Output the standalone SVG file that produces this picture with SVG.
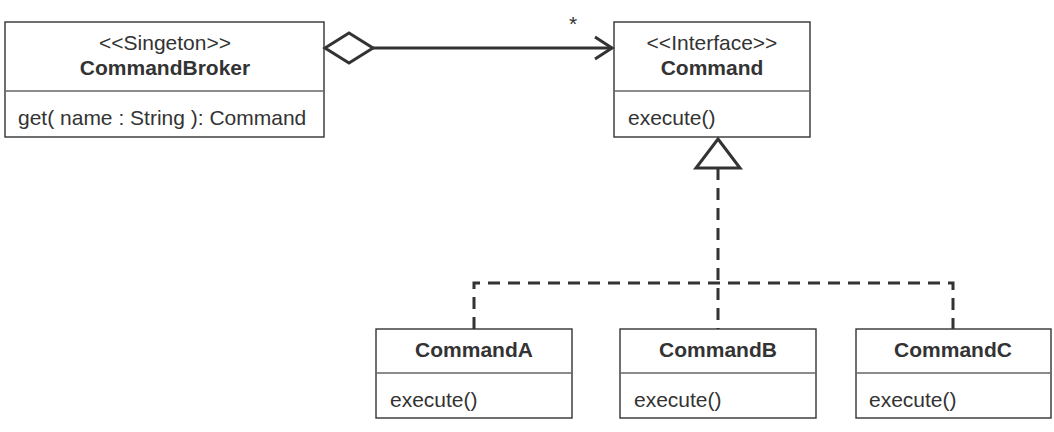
<svg xmlns="http://www.w3.org/2000/svg" width="1054" height="432" viewBox="0 0 1054 432">
<style>
.box{fill:#fff;stroke:#333;stroke-width:1.4}
.div{stroke:#666;stroke-width:1.4}
text{font-family:"Liberation Sans",Arial,sans-serif;font-size:21px;fill:#333}
.b{font-weight:bold}
.c{text-anchor:middle}
.conn{fill:none;stroke:#333;stroke-width:3}
.dash{stroke-dasharray:12,8}
</style>
<rect width="1054" height="432" fill="#fff"/>
<g id="CommandBroker">
<rect class="box" x="5" y="22" width="319" height="115"/>
<line class="div" x1="5" y1="91" x2="324" y2="91"/>
<text class="c" x="165" y="50">&lt;&lt;Singeton&gt;&gt;</text>
<text class="c b" x="165" y="75">CommandBroker</text>
<text x="18" y="125">get( name : String ): Command</text>
</g>
<g id="Command">
<rect class="box" x="614" y="22" width="196" height="115"/>
<line class="div" x1="614" y1="91" x2="810" y2="91"/>
<text class="c" x="712" y="50">&lt;&lt;Interface&gt;&gt;</text>
<text class="c b" x="712" y="75">Command</text>
<text x="628" y="125">execute()</text>
</g>
<g id="CommandA">
<rect class="box" x="376" y="329" width="196" height="89"/>
<line class="div" x1="376" y1="373" x2="572" y2="373"/>
<text class="c b" x="474" y="357">CommandA</text>
<text x="390" y="407">execute()</text>
</g>
<g id="CommandB">
<rect class="box" x="620" y="329" width="196" height="89"/>
<line class="div" x1="620" y1="373" x2="816" y2="373"/>
<text class="c b" x="718" y="357">CommandB</text>
<text x="634" y="407">execute()</text>
</g>
<g id="CommandC">
<rect class="box" x="856" y="329" width="195" height="89"/>
<line class="div" x1="856" y1="373" x2="1051" y2="373"/>
<text class="c b" x="953" y="357">CommandC</text>
<text x="869" y="407">execute()</text>
</g>
<g id="connectors">
<path class="conn" d="M325,48 L349,33 L373,48 L349,63 Z"/>
<line class="conn" x1="373" y1="48" x2="612" y2="48"/>
<path class="conn" d="M595,37 L612,48 L595,59"/>
<text x="569" y="31">*</text>
<path class="conn" d="M718,139 L740,168 L696,168 Z"/>
<path class="conn dash" d="M718,168 L718,329"/>
<path class="conn dash" d="M474,329 L474,283 L953,283 L953,329"/>
</g>
</svg>
